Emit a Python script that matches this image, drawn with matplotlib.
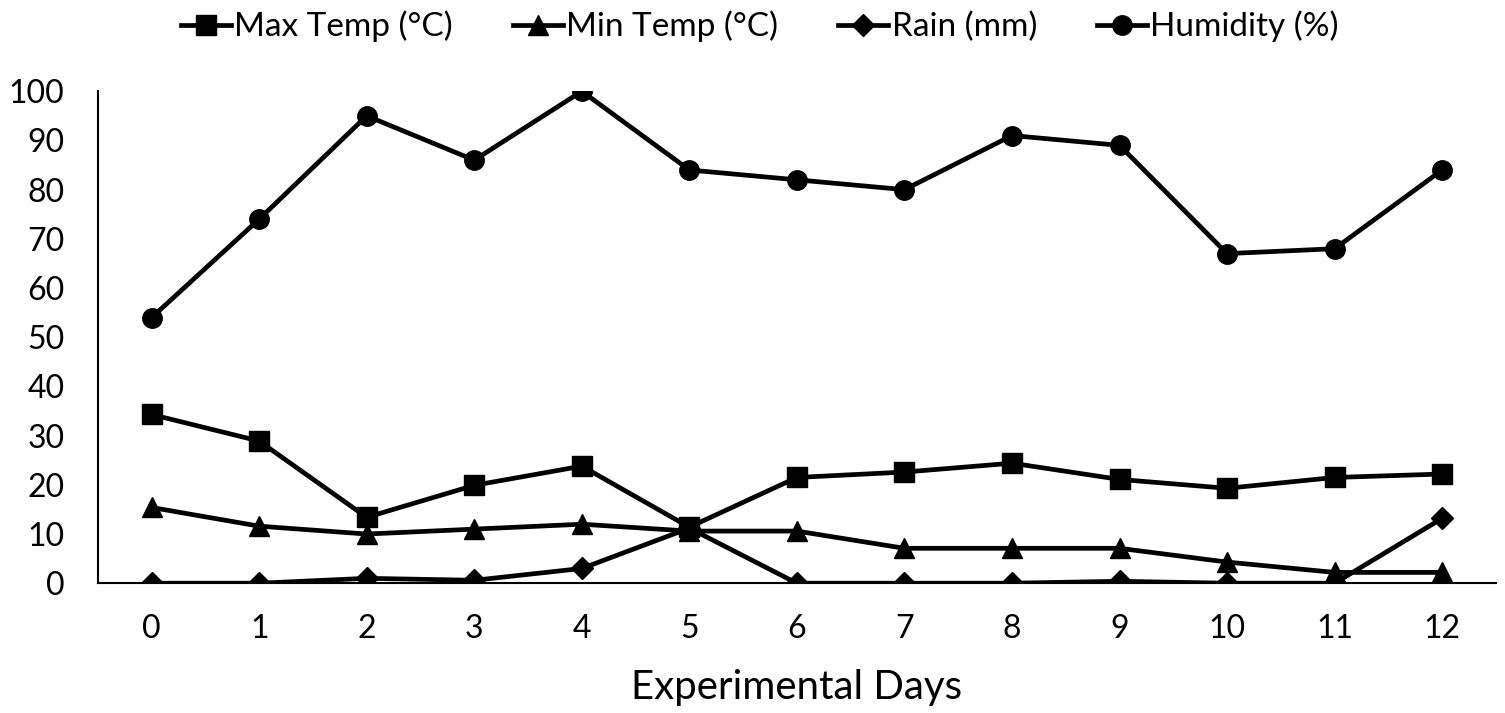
import matplotlib.pyplot as plt

plt.rcParams['font.family'] = ['Lato', 'DejaVu Sans']

days = list(range(13))
max_temp = [34.3, 28.9, 13.4, 19.9, 23.8, 11.4, 21.5, 22.6, 24.4, 21.1, 19.3, 21.5, 22.2]
min_temp = [15.4, 11.6, 10.0, 11.0, 12.0, 10.6, 10.6, 7.1, 7.1, 7.1, 4.3, 2.2, 2.2]
rain = [0, 0, 1.0, 0.6, 3.0, 11.2, 0, 0, 0, 0.4, 0, 0, 13.2]
humidity = [54, 74, 95, 86, 100, 84, 82, 80, 91, 89, 67, 68, 84]

fig = plt.figure(figsize=(15.05, 7.13), dpi=100)
ax = fig.add_axes([0.065, 0.182, 0.929, 0.690])

style = dict(color='black', lw=3.4, markersize=14)
ax.plot(days, max_temp, marker='s', label='Max Temp (°C)', **style)
ax.plot(days, min_temp, marker='^', label='Min Temp (°C)', **style)
ax.plot(days, rain, marker='D', label='Rain (mm)', **dict(style, markersize=11))
ax.plot(days, humidity, marker='o', label='Humidity (%)', **style)

ax.set_xlim(-0.5, 12.5)
ax.set_ylim(0, 100)
ax.set_xticks(days)
ax.set_yticks(range(0, 101, 10))
ax.tick_params(length=0, labelsize=23)
ax.tick_params(axis='y', pad=24)
ax.tick_params(axis='x', pad=22)
for s in ['top', 'right']:
    ax.spines[s].set_visible(False)
for s in ['left', 'bottom']:
    ax.spines[s].set_linewidth(1.5)
ax.set_xlabel('Experimental Days', fontsize=29, labelpad=18)

fig.legend(loc='upper center', bbox_to_anchor=(0.505, 1.027), ncol=4, frameon=False,
           fontsize=24, handlelength=1.5, handletextpad=0.1, columnspacing=1.8)

fig.savefig('out.png', dpi=100)
